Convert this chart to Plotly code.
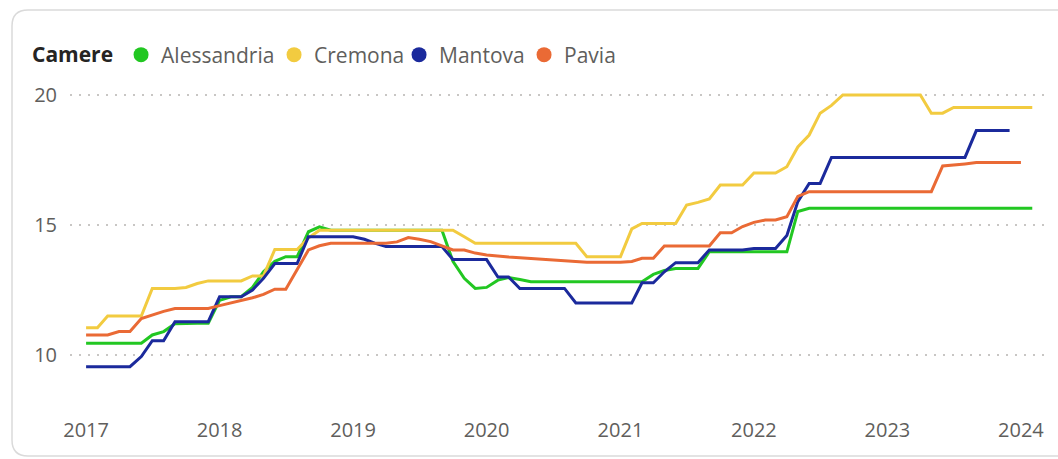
import pandas as pd
import plotly.graph_objects as go

# ---- data (monthly values, starting January 2017) ----
series_names = ["Alessandria", "Cremona", "Mantova", "Pavia"]
series_colors = ["#22C722", "#F2CB40", "#1B2A9C", "#EA6A35"]

alessandria = ([10.45] * 6 + [10.77, 10.9, 11.2, 11.22, 11.22, 11.22, 12.1, 12.24, 12.24, 12.6,
               13.2, 13.6, 13.78, 13.78, 14.74, 14.93] + [14.8] * 11 +
               [13.6, 12.95, 12.56, 12.6, 12.88, 12.98, 12.9] + [12.82] * 11 +
               [13.1, 13.25, 13.33, 13.33, 13.33] + [13.97] * 8 + [15.52] + [15.64] * 21)

cremona = ([11.05, 11.05, 11.5, 11.5, 11.5, 11.5, 12.56, 12.56, 12.56, 12.6, 12.75, 12.85, 12.85,
            12.85, 12.85, 13.04, 13.04, 14.06, 14.06, 14.06, 14.5, 14.8] + [14.8] * 12 +
           [14.55, 14.3] + [14.3] * 9 + [13.78] * 4 + [14.85, 15.06, 15.06, 15.06, 15.06] +
           [15.77, 15.87, 16.0, 16.54, 16.54, 16.54] +
           [17.0, 17.0, 17.0, 17.24, 18.0, 18.46, 19.3, 19.6] + [20.0] * 8 +
           [19.3, 19.3] + [19.52] * 8)

mantova = ([9.55] * 5 + [9.94, 10.55, 10.55, 11.28, 11.28, 11.28, 11.28] +
           [12.24, 12.24, 12.24, 12.5, 12.95, 13.52, 13.52, 13.52, 14.55] + [14.55] * 4 +
           [14.45, 14.3] + [14.17] * 6 + [13.67] * 4 + [13.0, 13.0] + [12.56] * 5 + [12.0] * 6 +
           [12.78, 12.78, 13.2, 13.55, 13.55, 13.55] + [14.04] * 4 +
           [14.1, 14.1, 14.1, 14.6, 15.9, 16.6, 16.6] + [17.6] * 13 + [18.63] * 4)

pavia = ([10.77, 10.77, 10.77, 10.9, 10.9, 11.4, 11.55, 11.68, 11.79, 11.79, 11.79, 11.79,
          11.9, 12.0, 12.08, 12.2, 12.33, 12.53, 12.53, 13.3, 14.04, 14.2] + [14.3] * 6 +
         [14.35, 14.52, 14.45, 14.36, 14.2, 14.04, 14.04, 13.92, 13.85, 13.8, 13.77, 13.74,
          13.71, 13.68, 13.65, 13.62, 13.6] + [13.57] * 4 +
         [13.6, 13.72, 13.72, 14.19, 14.19, 14.19, 14.19, 14.19, 14.7, 14.7, 14.94, 15.1,
          15.19, 15.19, 15.32] + [16.1] + [16.28] * 12 + [17.27, 17.3, 17.35] + [17.4] * 5)

series_values = [alessandria, cremona, mantova, pavia]
start_month = "2017-01-01"

y_ticks = [10, 15, 20]
x_tick_labels = ["2017", "2018", "2019", "2020", "2021", "2022", "2023", "2024"]

# ---- figure ----
W, H = 1058, 459
ML, MR, MT, MB = 70, 10, 80, 49
FONT = "Segoe UI, Open Sans, sans-serif"
legend_widths = [108, 80, 80, 60]   # spacing of legend entries (px)

fig = go.Figure()
for name, color, vals in zip(series_names, series_colors, series_values):
    dates = pd.date_range(start_month, periods=len(vals), freq="MS")
    fig.add_trace(go.Scatter(x=dates, y=vals, mode="lines", name=name,
                             line=dict(color=color, width=3), showlegend=False,
                             hovertemplate="%{y}<extra>" + name + "</extra>"))
# legend entries with circle markers
for name, color, lw in zip(series_names, series_colors, legend_widths):
    fig.add_trace(go.Scatter(x=[None], y=[None], mode="markers", name=name,
                             marker=dict(color=color, size=15, symbol="circle"),
                             legendwidth=lw))

# rounded card border, expressed in paper coordinates
pw, ph = W - ML - MR, H - MT - MB
def px(x):
    return (x - ML) / pw
def py(y):
    return (H - MB - y) / ph
r = 16
x0, y0, x1, y1 = 12, 10, 1120, 456
path = (f"M {px(x0)},{py(y1 - r)} L {px(x0)},{py(y0 + r)} "
        f"Q {px(x0)},{py(y0)} {px(x0 + r)},{py(y0)} L {px(x1 - r)},{py(y0)} "
        f"Q {px(x1)},{py(y0)} {px(x1)},{py(y0 + r)} L {px(x1)},{py(y1 - r)} "
        f"Q {px(x1)},{py(y1)} {px(x1 - r)},{py(y1)} L {px(x0 + r)},{py(y1)} "
        f"Q {px(x0)},{py(y1)} {px(x0)},{py(y1 - r)} Z")

fig.update_layout(
    width=W, height=H,
    margin=dict(l=ML, r=MR, t=MT, b=MB, autoexpand=False),
    paper_bgcolor="white", plot_bgcolor="white",
    font=dict(family=FONT, color="#605E5C"),
    showlegend=True,
    legend=dict(orientation="h", xref="container", yref="container",
                x=30 / W, y=1 - 55 / H, xanchor="left", yanchor="middle",
                title=dict(text="<b>Camere</b>", font=dict(size=21, color="#252423"), side="left"),
                font=dict(size=21, color="#605E5C"), itemsizing="trace",
                bgcolor="rgba(0,0,0,0)", traceorder="normal"),
    shapes=[dict(type="path", xref="paper", yref="paper", path=path,
                 line=dict(color="#DADADA", width=1.5), fillcolor="rgba(0,0,0,0)",
                 layer="below")],
    xaxis=dict(type="date", range=["2016-11-18", "2024-03-15"],
               tickvals=[f"{y}-01-01" for y in x_tick_labels], ticktext=x_tick_labels,
               showgrid=False, zeroline=False, showline=False, ticks="",
               tickfont=dict(size=20, color="#605E5C"), ticklabelstandoff=6),
    yaxis=dict(range=[10 - (H - MB - 355) / 26, 20 + (95 - MT) / 26],
               tickvals=y_ticks, ticktext=[str(v) for v in y_ticks],
               showgrid=True, gridcolor="#C8C6C4", griddash="2px,7px", gridwidth=1.5,
               zeroline=False, showline=False, ticks="",
               tickfont=dict(size=20, color="#605E5C"), ticklabelstandoff=12),
    hovermode="x unified",
)

fig.write_html("out.html", config={"displayModeBar": False},
               post_script="document.body.style.margin='0';")
